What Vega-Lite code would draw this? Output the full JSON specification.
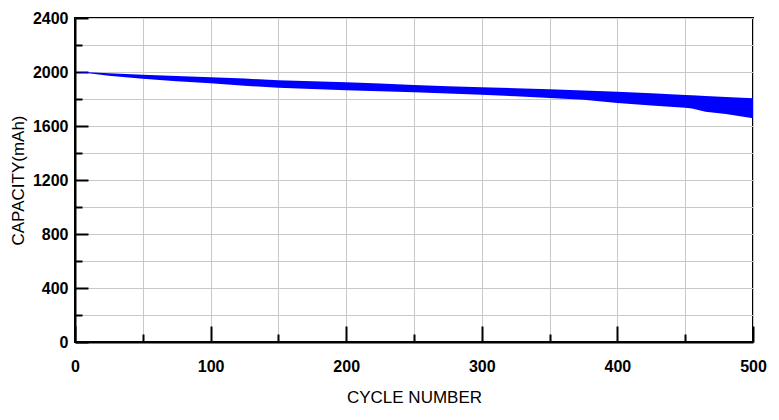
{
  "$schema": "https://vega.github.io/schema/vega-lite/v6.json",
  "autosize": {"type": "none"},
  "padding": {"left": 75, "top": 18, "right": 26, "bottom": 78},
  "width": 678,
  "height": 324,
  "background": "white",
  "config": {
    "font": "Liberation Sans",
    "view": {"stroke": "black", "strokeWidth": 2},
    "axis": {
      "domainColor": "black",
      "domainWidth": 2,
      "tickColor": "black",
      "tickWidth": 2,
      "gridColor": "#c8c8c8",
      "gridWidth": 1,
      "labelFont": "Liberation Sans",
      "labelFontWeight": "bold",
      "labelFontSize": 16,
      "labelColor": "black",
      "titleFont": "Liberation Sans",
      "titleFontWeight": "normal",
      "titleFontSize": 17,
      "titleColor": "black"
    }
  },
  "data": {
    "values": [
      {"cycle": 0, "upper": 2000, "lower": 2000},
      {"cycle": 10, "upper": 1998, "lower": 1990},
      {"cycle": 25, "upper": 1990, "lower": 1972},
      {"cycle": 50, "upper": 1980, "lower": 1950},
      {"cycle": 75, "upper": 1970, "lower": 1932},
      {"cycle": 100, "upper": 1961, "lower": 1916},
      {"cycle": 125, "upper": 1951, "lower": 1898},
      {"cycle": 150, "upper": 1938, "lower": 1884},
      {"cycle": 175, "upper": 1931, "lower": 1874},
      {"cycle": 200, "upper": 1924, "lower": 1864},
      {"cycle": 225, "upper": 1914, "lower": 1857},
      {"cycle": 250, "upper": 1904, "lower": 1850},
      {"cycle": 275, "upper": 1895, "lower": 1841},
      {"cycle": 300, "upper": 1887, "lower": 1832},
      {"cycle": 325, "upper": 1880, "lower": 1820},
      {"cycle": 350, "upper": 1872, "lower": 1807},
      {"cycle": 375, "upper": 1863, "lower": 1795},
      {"cycle": 400, "upper": 1854, "lower": 1770},
      {"cycle": 425, "upper": 1842, "lower": 1752},
      {"cycle": 450, "upper": 1830, "lower": 1736},
      {"cycle": 455, "upper": 1828, "lower": 1730},
      {"cycle": 465, "upper": 1823, "lower": 1706},
      {"cycle": 480, "upper": 1815, "lower": 1688},
      {"cycle": 500, "upper": 1805, "lower": 1657}
    ]
  },
  "mark": {"type": "area", "color": "#0000ff", "opacity": 1},
  "encoding": {
    "x": {
      "field": "cycle",
      "type": "quantitative",
      "scale": {"domain": [0, 500], "nice": false},
      "axis": {
        "title": "CYCLE NUMBER",
        "values": [0, 50, 100, 150, 200, 250, 300, 350, 400, 450, 500],
        "labelExpr": "datum.value % 100 === 0 ? datum.label : ''",
        "tickSize": {"condition": {"test": "datum.value % 100 === 0", "value": -16}, "value": -8},
        "labelPadding": 32,
        "titlePadding": 15,
        "labelFlush": false
      }
    },
    "y": {
      "field": "upper",
      "type": "quantitative",
      "scale": {"domain": [0, 2400], "nice": false},
      "axis": {
        "title": "CAPACITY(mAh)",
        "values": [0, 200, 400, 600, 800, 1000, 1200, 1400, 1600, 1800, 2000, 2200, 2400],
        "labelExpr": "datum.value % 400 === 0 ? datum.label : ''",
        "format": "d",
        "tickSize": {"condition": {"test": "datum.value % 400 === 0", "value": -13}, "value": -7},
        "labelPadding": 20,
        "titlePadding": 5,
        "labelFlush": false
      }
    },
    "y2": {"field": "lower"}
  }
}
